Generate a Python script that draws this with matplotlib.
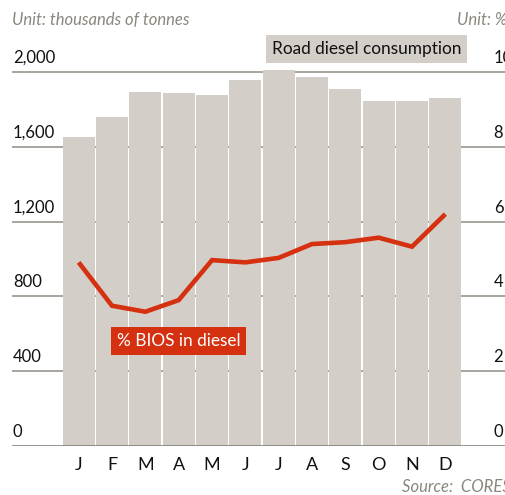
import matplotlib.pyplot as plt

plt.rcParams['font.family'] = ['Lato', 'DejaVu Sans']

# --- DATA ---
months = ['J', 'F', 'M', 'A', 'M', 'J', 'J', 'A', 'S', 'O', 'N', 'D']
diesel_kt = [1654, 1761, 1895, 1886, 1877, 1957, 2011, 1972, 1907, 1847, 1845, 1859]
bios_pct = [4.91, 3.75, 3.59, 3.90, 4.97, 4.91, 5.03, 5.40, 5.45, 5.57, 5.33, 6.20]
left_ticks = [0, 400, 800, 1200, 1600, 2000]
right_ticks = [0, 2, 4, 6, 8, 10]

# --- STYLE ---
BAR = '#d3cec8'
RED = '#d5300f'
GRID = '#8f8d84'
BASE = '#7a776d'
UNIT = '#8a877d'
INK = '#111111'

W, H = 506, 495
fig = plt.figure(figsize=(W / 100, H / 100), dpi=100)
ax = fig.add_axes([12 / W, 49 / H, 494 / W, 411.4 / H])
ax.set_xlim(-2.0, 12.82)
ax.set_ylim(0, 2200)
for s in ax.spines.values():
    s.set_visible(False)
ax.set_xticks([])
ax.set_yticks([])

for v in left_ticks[1:]:
    ax.axhline(v, color=GRID, lw=1.1, zorder=1)
ax.axhline(0, color=BASE, lw=1.8, zorder=4)

x = list(range(len(months)))
ax.bar(x, diesel_kt, width=0.955, color=BAR, zorder=2)

for v in left_ticks:
    ax.annotate(f'{v:,}', xy=(0, v), xycoords=('axes fraction', 'data'),
                xytext=(1, 9), textcoords='offset pixels',
                ha='left', va='baseline', fontsize=12, color=INK)

for i, m in enumerate(months):
    ax.annotate(m, xy=(i, 0), xytext=(0, -24), textcoords='offset pixels',
                ha='center', va='baseline', fontsize=13, color=INK)

# percentage share on the secondary axis
ax2 = ax.twinx()
ax2.set_ylim(0, 11)
for s in ax2.spines.values():
    s.set_visible(False)
ax2.set_yticks([])
ax2.plot(x, bios_pct, color=RED, lw=3.3, solid_joinstyle='miter',
         solid_capstyle='butt', zorder=5)

for v in right_ticks:
    ax2.annotate(f'{v}', xy=(0.975, v), xycoords=('axes fraction', 'data'),
                 xytext=(0, 9), textcoords='offset pixels',
                 ha='left', va='baseline', fontsize=12, color=INK)

# units, legend labels and source
fig.text(12 / W, 1 - 25 / H, 'Unit: thousands of tonnes', style='italic',
         fontsize=12, color=UNIT, ha='left', va='baseline')
fig.text(457 / W, 1 - 25 / H, 'Unit: %', style='italic',
         fontsize=12, color=UNIT, ha='left', va='baseline')
fig.text(272 / W, 1 - 54 / H, 'Road diesel consumption', fontsize=12.4,
         color=INK, ha='left', va='baseline',
         bbox=dict(boxstyle='square,pad=0.33', fc=BAR, ec='none'))
fig.text(117 / W, 1 - 346 / H, '% BIOS in diesel', fontsize=12.4,
         color='white', ha='left', va='baseline',
         bbox=dict(boxstyle='square,pad=0.33', fc=RED, ec='none'))
fig.text(402 / W, 1 - 492 / H, 'Source:  CORES', style='italic',
         fontsize=12, color=UNIT, ha='left', va='baseline')

fig.savefig('out.png', dpi=100)
